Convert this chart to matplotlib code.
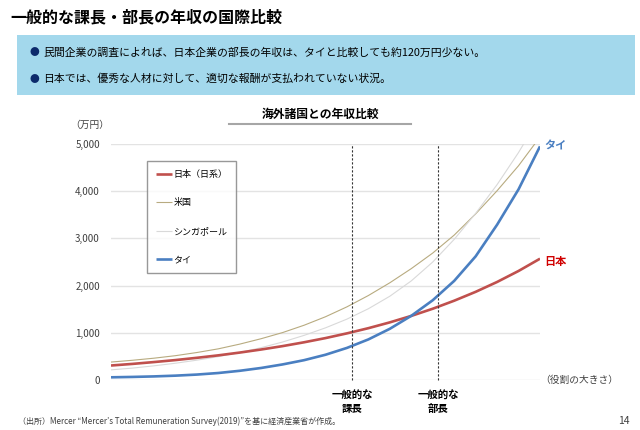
import matplotlib
matplotlib.use('Agg')
import matplotlib.pyplot as plt
from matplotlib.patches import Rectangle
from matplotlib.lines import Line2D

plt.rcParams['font.family'] = ['Noto Sans CJK JP', 'DejaVu Sans']

# role size (0-100 scale) and annual income (万円)
role = [0, 5, 10, 15, 20, 25, 30, 35, 40, 45, 50,
        55, 60, 65, 70, 75, 80, 85, 90, 95, 100]
japan = [307, 341, 380, 422, 470, 522, 581, 646, 718, 799, 888,
         988, 1098, 1221, 1358, 1510, 1680, 1868, 2077, 2310, 2570]
usa = [380, 418, 462, 515, 582, 660, 760, 875, 1005, 1160, 1340,
       1550, 1790, 2060, 2360, 2690, 3070, 3520, 4010, 4540, 5150]
singapore = [215, 252, 300, 355, 420, 495, 583, 685, 805, 945, 1105,
             1290, 1510, 1775, 2100, 2500, 2980, 3530, 4140, 4820, 5580]
thai = [57, 65, 76, 92, 115, 148, 195, 255, 330, 420, 535,
        680, 860, 1085, 1360, 1690, 2100, 2620, 3290, 4040, 4950]

role_pos = [56.2, 76.2]
role_labels = ['一般的な\n課長', '一般的な\n部長']
yticks = [0, 1000, 2000, 3000, 4000, 5000]

series = [
    ('日本（日系）', japan, '#C0504D', 1.9),
    ('米国', usa, '#B8AB80', 0.8),
    ('シンガポール', singapore, '#D9D9D9', 0.8),
    ('タイ', thai, '#4A7FC1', 1.9),
]

fig = plt.figure(figsize=[6.4, 4.3], dpi=100)

# header
fig.text(10 / 640, 1 - 17 / 430, '一般的な課長・部長の年収の国際比較',
         fontsize=11.5, fontweight='bold', va='center', ha='left')
fig.patches.append(Rectangle((17 / 640, 1 - 95 / 430), 618 / 640, 60 / 430,
                             transform=fig.transFigure, facecolor='#A3D8EC',
                             edgecolor='none', zorder=0))
bullets = ['民間企業の調査によれば、日本企業の部長の年収は、タイと比較しても約120万円少ない。',
           '日本では、優秀な人材に対して、適切な報酬が支払われていない状況。']
for i, text in enumerate(bullets):
    yy = 1 - (52 + 27 * i) / 430
    fig.text(34 / 640, yy, '●', fontsize=7, color='#0C2A6B',
             va='center', ha='center')
    fig.text(43 / 640, yy, text, fontsize=7.8, va='center', ha='left')

# chart title with underline
fig.text(320 / 640, 1 - 114 / 430, '海外諸国との年収比較', fontsize=8.5,
         fontweight='bold', va='center', ha='center')
fig.lines.append(Line2D([229 / 640, 411 / 640], [1 - 124 / 430, 1 - 124 / 430],
                        transform=fig.transFigure, color='#A6A6A6', lw=1.5))

ax = fig.add_axes([111 / 640, 1 - 380 / 430, 429 / 640, 236 / 430])
for name, values, colour, lw in series:
    ax.plot(role, values, color=colour, lw=lw, label=name,
            solid_capstyle='butt', zorder=3 if lw > 1 else 2)
for x in role_pos:
    ax.plot([x, x], [0, 5000], color='#333333', lw=0.8,
            linestyle=(0, (2, 1.6)), zorder=4, clip_on=False)

ax.set_xlim(0, 100)
ax.set_ylim(0, 5000)
ax.set_yticks(yticks)
ax.set_yticklabels([f'{v:,}' for v in yticks])
ax.set_xticks(role_pos)
ax.set_xticklabels(role_labels, fontweight='bold', fontsize=7.5,
                   linespacing=1.3)
ax.tick_params(axis='y', length=0, pad=8, labelsize=7, labelcolor='#404040')
ax.tick_params(axis='x', length=0, pad=8)
ax.grid(axis='y', color='#E3E3E3', lw=1)
ax.set_axisbelow(True)
for s in ax.spines.values():
    s.set_visible(False)

ax.legend(loc='upper left', bbox_to_anchor=(0.084, 0.928), fontsize=6.5,
          frameon=True, fancybox=False, edgecolor='#7F7F7F',
          labelspacing=2.15, handlelength=1.8, handletextpad=0.1,
          borderpad=1.0, borderaxespad=0)

ax.text(1.01, thai[-1], 'タイ', transform=ax.get_yaxis_transform(),
        color='#4A7FC1', fontweight='bold', fontsize=8, va='center')
ax.text(1.01, japan[-1] - 50, '日本', transform=ax.get_yaxis_transform(),
        color='#D00000', fontweight='bold', fontsize=8, va='center')
ax.text(1.0, 0, '（役割の大きさ）', transform=ax.get_yaxis_transform(),
        fontsize=7, color='#404040', va='center', ha='left')
fig.text(70 / 640, 1 - 125 / 430, '（万円）', fontsize=7, color='#404040',
         va='center', ha='left')

fig.text(18 / 640, 1 - 421 / 430,
         '（出所）Mercer “Mercer’s Total Remuneration Survey(2019)”を基に経済産業省が作成。',
         fontsize=5.8, color='#404040', va='center', ha='left')
fig.text(630 / 640, 1 - 421 / 430, '14', fontsize=7.5, color='#404040',
         va='center', ha='right')

fig.savefig('out.png', dpi=100)
plt.close(fig)
